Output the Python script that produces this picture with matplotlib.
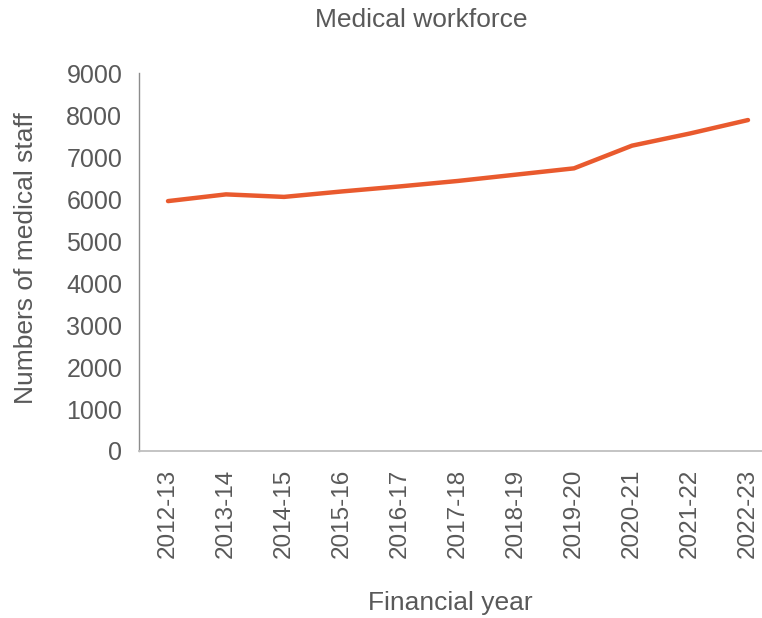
import matplotlib
matplotlib.use("Agg")
import matplotlib.pyplot as plt

years = ["2012-13", "2013-14", "2014-15", "2015-16", "2016-17", "2017-18",
         "2018-19", "2019-20", "2020-21", "2021-22", "2022-23"]
staff = [5950, 6110, 6050, 6180, 6300, 6430, 6580, 6730, 7270, 7560, 7880]
yticks = [0, 1000, 2000, 3000, 4000, 5000, 6000, 7000, 8000, 9000]

plt.rcParams['font.family'] = ['Liberation Sans', 'DejaVu Sans']
grey = '#595959'

W, H = 762, 618
fig = plt.figure(figsize=(W / 100, H / 100), dpi=100)
ax = fig.add_axes([139 / W, 1 - 451 / H, (777 - 139) / W, (451 - 73) / H])

x = list(range(len(years)))
ax.plot(x, staff, color='#E95A2E', linewidth=3.2, solid_capstyle='round')
ax.set_xlim(-0.5, len(years) - 0.5)
ax.set_ylim(0, 9000)
ax.set_yticks(yticks)
ax.set_yticklabels([str(v) for v in yticks])
ax.set_xticks(x)
ax.set_xticklabels(years, rotation=90)

for s in ['top', 'right']:
    ax.spines[s].set_visible(False)
ax.spines['left'].set_color('#8C8C8C')
ax.spines['left'].set_linewidth(1.0)
ax.spines['bottom'].set_color('#BFBFBF')
ax.spines['bottom'].set_linewidth(1.3)
ax.tick_params(axis='y', length=0, labelcolor=grey, labelsize=18, pad=12)
ax.tick_params(axis='x', length=0, labelcolor=grey, labelsize=17.5, pad=13)

fig.text(421 / W, 1 - 20 / H, "Medical workforce", ha='center', va='center',
         fontsize=19, color=grey)
fig.text(450 / W, 1 - 603 / H, "Financial year", ha='center', va='center',
         fontsize=19, color=grey)
fig.text(26 / W, 1 - 258 / H, "Numbers of medical staff", ha='center', va='center',
         rotation=90, fontsize=19, color=grey)

fig.savefig("out.png", dpi=100)
